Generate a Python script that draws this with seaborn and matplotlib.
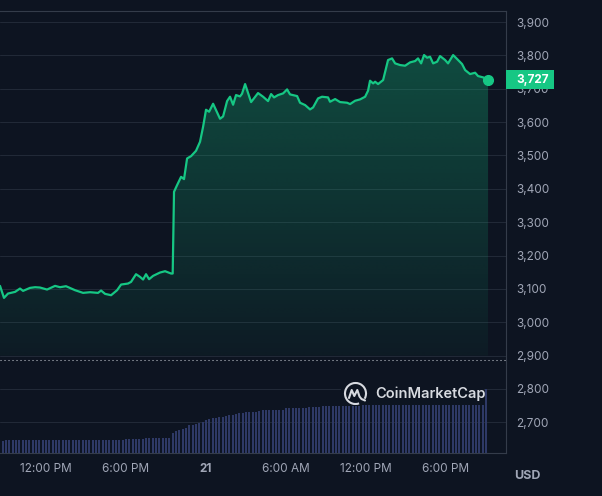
import numpy as np
import pandas as pd
import matplotlib
matplotlib.use('Agg')
import matplotlib.pyplot as plt
import matplotlib.dates as mdates
import matplotlib.transforms as mtransforms
from matplotlib.patches import Arc, Rectangle
from matplotlib.ticker import FuncFormatter
import seaborn as sns

# ETH / USD, 20-21 May 2024 (hours counted from 20 May 00:00)
price_hours = [8.55, 8.85, 9.15, 9.68, 10.05, 10.28, 10.8, 11.18, 11.55, 12.08,
               12.68, 13.05, 13.5, 14.18, 14.78, 15.3, 15.9, 16.13, 16.43, 16.88,
               17.33, 17.63, 18.15, 18.38, 18.75, 19.05, 19.28, 19.5, 19.73, 20.03,
               20.55, 20.93, 21.38, 21.5, 21.6, 21.83, 22.13, 22.35, 22.58, 22.88,
               23.25, 23.55, 23.78, 24.0, 24.23, 24.53, 25.05, 25.28, 25.58, 25.8,
               26.03, 26.25, 26.55, 26.7, 26.93, 27.38, 27.9, 28.28, 28.65, 28.88,
               29.1, 29.4, 29.78, 30.08, 30.3, 30.83, 31.05, 31.43, 31.8, 32.03,
               32.4, 32.7, 33.15, 33.3, 33.68, 34.05, 34.58, 34.8, 35.18, 35.55,
               35.93, 36.15, 36.3, 36.53, 36.68, 36.9, 37.28, 37.65, 37.95, 38.18,
               38.55, 38.93, 39.3, 39.68, 39.9, 40.13, 40.35, 40.58, 40.8, 41.03,
               41.33, 41.55, 41.93, 42.15, 42.53, 42.83, 43.2, 43.43, 43.8, 44.18,
               44.4, 44.78, 45.15]
prices = [3109, 3073, 3086, 3091, 3101, 3094, 3103, 3105, 3104, 3098,
          3109, 3105, 3108, 3096, 3088, 3090, 3088, 3095, 3085, 3081,
          3096, 3113, 3116, 3121, 3144, 3136, 3128, 3144, 3129, 3139,
          3149, 3153, 3146, 3146, 3391, 3411, 3436, 3429, 3491, 3498,
          3514, 3541, 3586, 3637, 3631, 3655, 3610, 3617, 3663, 3676,
          3652, 3681, 3677, 3685, 3714, 3660, 3687, 3676, 3663, 3684,
          3674, 3681, 3686, 3698, 3683, 3678, 3658, 3651, 3638, 3644,
          3671, 3676, 3674, 3661, 3669, 3660, 3658, 3654, 3664, 3668,
          3676, 3694, 3724, 3716, 3721, 3714, 3726, 3786, 3791, 3776,
          3771, 3769, 3779, 3783, 3791, 3776, 3801, 3793, 3796, 3776,
          3781, 3798, 3786, 3776, 3801, 3789, 3774, 3756, 3744, 3748,
          3738, 3734, 3727]

# volume bars, one every 15 minutes from 20 May 08:30 (relative units)
volume = [11.7, 11.7, 12.7, 12.7, 12.7, 12.7, 12.7, 12.7, 12.7, 12.7, 12.7, 12.7,
          12.7, 12.7, 12.7, 12.7, 12.7, 12.7, 12.7, 12.7, 12.7, 12.7, 12.7, 12.7,
          12.7, 12.7, 12.7, 12.7, 12.7, 12.7, 12.7, 12.7, 12.7, 12.7, 12.7, 12.7,
          12.7, 12.7, 13.7, 13.7, 13.7, 13.7, 13.7, 13.7, 14.7, 14.7, 14.7, 14.7,
          14.7, 14.7, 14.7, 14.7, 19.7, 21.7, 22.7, 23.7, 24.7, 27.7, 27.7, 28.7,
          29.7, 30.7, 32.7, 33.7, 34.7, 34.7, 35.7, 35.7, 36.7, 37.7, 37.7, 38.7,
          39.7, 39.7, 40.7, 40.7, 41.0, 41.0, 41.5, 42.7, 42.7, 42.7, 43.3, 43.3,
          43.3, 43.3, 44.7, 44.7, 44.7, 44.7, 44.7, 44.7, 44.7, 45.7, 45.7, 45.7,
          45.7, 46.7, 46.7, 46.7, 46.7, 46.7, 46.7, 46.7, 46.7, 47.2, 47.2, 47.2,
          47.2, 48.7, 48.7, 48.7, 48.7, 49.7, 49.7, 50.7, 51.7, 51.7, 52.7, 52.7,
          53.2, 53.7, 54.2, 54.7, 55.2, 55.7, 56.2, 56.7, 57.2, 57.7, 58.2, 58.7,
          59.2, 59.7, 60.2, 60.7, 61.2, 61.7, 62.2, 62.7, 63.2, 63.7, 63.7, 63.7,
          63.7, 63.7, 63.7]

y_ticks = [2700, 2800, 2900, 3000, 3100, 3200, 3300, 3400, 3500, 3600, 3700, 3800, 3900]
x_tick_times = ['2024-05-20 12:00', '2024-05-20 18:00', '2024-05-21 00:00',
                '2024-05-21 06:00', '2024-05-21 12:00', '2024-05-21 18:00']
x_tick_labels = ['12:00 PM', '6:00 PM', '21', '6:00 AM', '12:00 PM', '6:00 PM']

BG = '#0d1421'
GREEN = '#16c784'
GRID = '#212937'
SPINE = '#343c4a'
LABEL = '#a0a6b6'
BAR = '#2e3966'

base = pd.Timestamp('2024-05-20')
times = base + pd.to_timedelta(price_hours, unit='h')
df = pd.DataFrame({'time': times, 'price': prices})
vol_times = pd.date_range('2024-05-20 08:30', periods=len(volume), freq='15min')

sns.set_theme(style='darkgrid', rc={
    'figure.facecolor': BG, 'axes.facecolor': BG, 'grid.color': GRID,
    'axes.edgecolor': SPINE, 'xtick.color': LABEL, 'ytick.color': LABEL,
    'text.color': LABEL, 'grid.linewidth': 0.75,
})
plt.rcParams['font.family'] = ['Inter', 'DejaVu Sans']

fig = plt.figure(figsize=(6.02, 4.96), dpi=100)
ax = fig.add_axes([0, 0.0867, 0.8399, 0.8911])
vax = ax.twinx()

xlim = (pd.Timestamp('2024-05-20 08:33'), pd.Timestamp('2024-05-21 22:28'))
ylim = (2608, 3933)

# price line
sns.lineplot(data=df, x='time', y='price', ax=ax, color=GREEN, linewidth=1.6,
             estimator=None, zorder=4)
ax.plot(df['time'].iloc[-1], df['price'].iloc[-1], 'o', color=GREEN, ms=7, zorder=5)

# gradient under the line
fill_floor = 2900
poly = ax.fill_between(df['time'], df['price'], fill_floor,
                       facecolor='none', edgecolor='none')
grad = np.zeros((256, 1, 4))
grad[:, :, :3] = matplotlib.colors.to_rgb(GREEN)
grad[:, 0, 3] = np.linspace(0.04, 0.31, 256)
x0 = mdates.date2num(df['time'].iloc[0])
x1 = mdates.date2num(df['time'].iloc[-1])
im = ax.imshow(grad, extent=[x0, x1, fill_floor, max(prices)], origin='lower',
               aspect='auto', zorder=2, interpolation='bilinear')
im.set_clip_path(poly.get_paths()[0], transform=ax.transData)

# dotted separator between price and volume
ax.axhline(2886, color='#c8ccd4', lw=0.75, linestyle=(0, (1, 2.84)), zorder=3)

ax.set_xlim(xlim)
ax.set_ylim(ylim)
ax.set_xlabel('')
ax.set_ylabel('')
ax.xaxis.grid(False)

ax.yaxis.tick_right()
ax.set_yticks(y_ticks)
ax.yaxis.set_major_formatter(FuncFormatter(lambda v, p: f'{v:,.0f}'))
ax.tick_params(axis='y', length=0, pad=7.5, labelsize=8.5)
ax.set_xticks(pd.to_datetime(x_tick_times), x_tick_labels)
ax.tick_params(axis='x', length=2.2, width=0.75, color=SPINE, pad=5, labelsize=8.5)
for lbl in ax.get_xticklabels():
    if lbl.get_text() == '21':
        lbl.set_fontweight('bold')

for side in ['top', 'right', 'bottom']:
    ax.spines[side].set_visible(True)
    ax.spines[side].set_color(SPINE)
    ax.spines[side].set_linewidth(0.8)
ax.spines['left'].set_visible(False)

# last price tag
trans = mtransforms.blended_transform_factory(ax.transAxes, ax.transData)
last = prices[-1]
ax.add_patch(Rectangle((1.0, last - 28.5), 48 / 505.6, 57, transform=trans,
                       facecolor=GREEN, edgecolor='none', clip_on=False, zorder=10))
ax.text(1.0 + 10.4 / 505.6, last, f'{last:,}', transform=trans, ha='left', va='center',
        fontsize=8.5, fontweight='bold', color='white', zorder=11, clip_on=False)

# volume bars on a hidden twin axis
vax.bar(vol_times, volume, width=9 / 1440, color=BAR, linewidth=0)
vax.set_ylim(0, 442)
vax.set_yticks([])
vax.grid(False)
for s in vax.spines.values():
    s.set_visible(False)
vax.set_xlim(xlim)

# watermark
lax = fig.add_axes([341 / 602, 1 - 404.5 / 496, 143 / 602, 26.5 / 496])
lax.set_facecolor(BG)
lax.set_xlim(0, 143)
lax.set_ylim(0, 26.5)
lax.set_xticks([])
lax.set_yticks([])
lax.grid(False)
for s in lax.spines.values():
    s.set_visible(False)
logo_col = '#d7dae0'
lax.add_patch(Arc((14.5, 11), 21, 21, theta1=-30, theta2=290, color=logo_col, lw=1.5))
wave_x = [14.5 - 6.5, 14.5 - 3.8, 14.5 - 1.2, 14.5 + 1.8, 14.5 + 4.0, 14.5 + 6.0, 14.5 + 9.5]
wave_y = [11 - 4.5, 11 + 3.5, 11 - 2.5, 11 + 3.5, 11 - 3.0, 11 - 5.5, 11 - 7.0]
lax.plot(wave_x, wave_y, color=logo_col, lw=1.5, solid_joinstyle='round',
         solid_capstyle='round')
lax.text(34, 11, 'CoinMarketCap', ha='left', va='center', fontsize=10.5,
         fontweight='semibold', color=logo_col)

fig.text(527 / 602, 1 - 476 / 496, 'USD', ha='center', va='center', fontsize=9,
         fontweight='bold', color=LABEL)

fig.savefig('out.png', dpi=100, facecolor=BG)
